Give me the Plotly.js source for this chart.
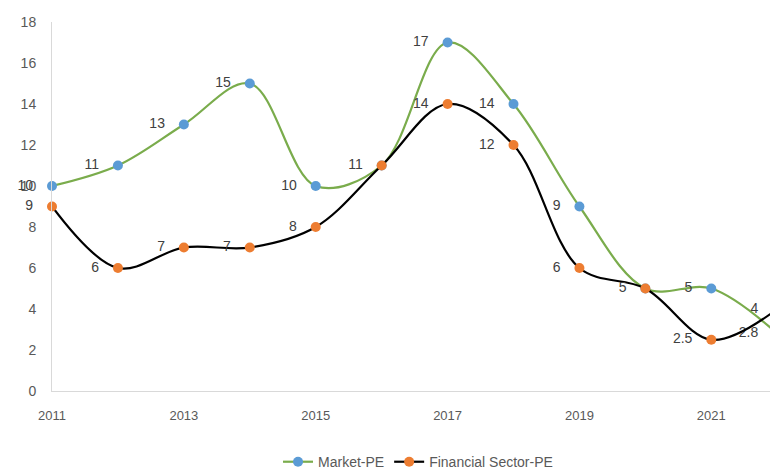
<!DOCTYPE html>
<html><head><meta charset="utf-8">
<script src="https://cdn.plot.ly/plotly-3.0.1.min.js"></script>
<style>html,body{margin:0;background:#fff;overflow:hidden}#wrap{width:770px;height:473px;overflow:hidden}#c{width:797px;height:473px}</style>
</head><body><div id="wrap"><div id="c"></div></div>
<script>
const years = [2011,2012,2013,2014,2015,2016,2017,2018,2019,2020,2021,2022];
const marketPE = [10,11,13,15,10,11,17,14,9,5,5,2.8];
const financialPE = [9,6,7,7,8,11,14,12,6,5,2.5,4];
const marketLabels = ['10','11','13','15','10','11','17','14','9','','5','2.8'];
const financialLabels = ['9','6','7','7','8','','14','12','6','5','2.5','4'];
const xTicks = [2011,2013,2015,2017,2019,2021];
const yTicks = [0,2,4,6,8,10,12,14,16,18];

const pad = s => s === '' ? '' : s + '\u00a0\u00a0\u00a0';
const lblFont = {family:'Liberation Sans, Arial, sans-serif', size:14, color:'#404040'};
const traces = [
 {x:years, y:marketPE, name:'Market-PE', type:'scatter', mode:'lines+markers+text',
  line:{color:'#7aac4c', width:2.2, shape:'spline', smoothing:1},
  marker:{color:'#5b9bd5', size:10},
  text:marketLabels.map(pad), textposition:'middle left', textfont:lblFont, cliponaxis:false},
 {x:years, y:financialPE, name:'Financial Sector-PE', type:'scatter', mode:'lines+markers+text',
  line:{color:'#000000', width:2.2, shape:'spline', smoothing:1},
  marker:{color:'#ed7d31', size:10},
  text:financialLabels.map(pad), textposition:'middle left', textfont:lblFont, cliponaxis:false}
];
const layout = {
 width:797, height:473,
 margin:{l:52, r:0, t:22, b:82},
 paper_bgcolor:'#fff', plot_bgcolor:'#fff',
 font:{family:'Liberation Sans, Arial, sans-serif', size:14, color:'#595959'},
 showlegend:true,
 legend:{orientation:'h', xref:'container', yref:'container', x:0.5245, xanchor:'center', y:0.023, yanchor:'middle', font:{size:14, color:'#595959'}},
 xaxis:{range:[2011,2022.3], tickvals:xTicks, ticktext:xTicks.map(String), showgrid:false, zeroline:false,
   showline:true, linecolor:'#d9d9d9', linewidth:1, ticks:'', ticklabelstandoff:12, tickfont:{size:13}},
 yaxis:{range:[0,18], tickvals:yTicks, ticktext:yTicks.map(String), showgrid:false, zeroline:false,
   showline:true, linecolor:'#d9d9d9', linewidth:1, ticks:'', ticklabelstandoff:12, tickfont:{size:14}}
};
Plotly.newPlot('c', traces, layout, {displayModeBar:false, staticPlot:true});
</script></body></html>
